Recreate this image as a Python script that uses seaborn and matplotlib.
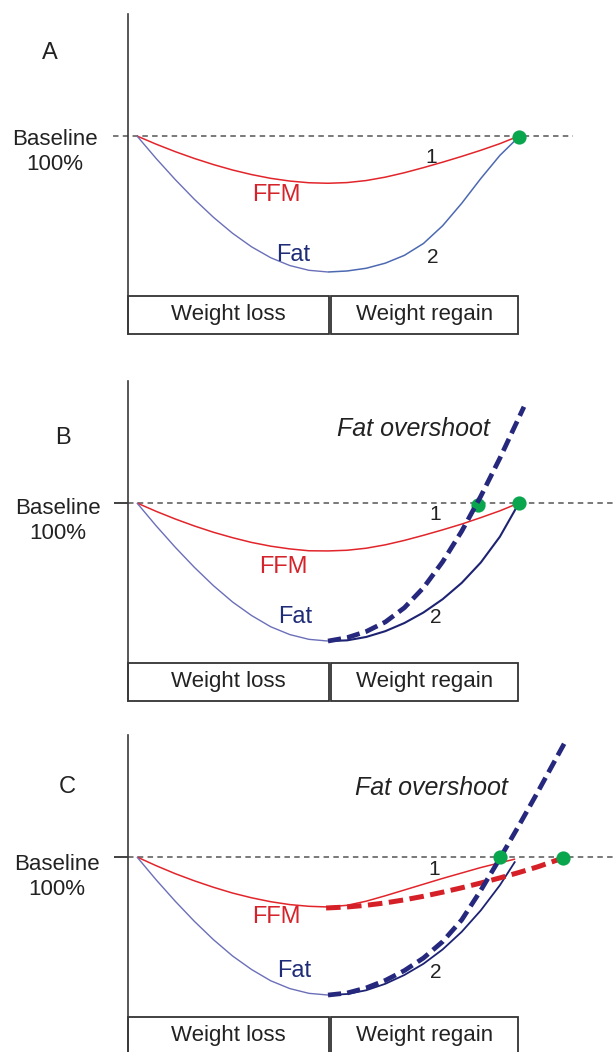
import matplotlib
matplotlib.use("Agg")
import matplotlib.pyplot as plt
from matplotlib.patches import Rectangle
import seaborn as sns

# time: 0 = start of weight loss, 0.5 = switch to regain, 1 = end of regain
T = [0.0, 0.05, 0.1, 0.15, 0.2, 0.25, 0.3, 0.35, 0.4, 0.45, 0.5,
     0.55, 0.6, 0.65, 0.7, 0.75, 0.8, 0.85, 0.9, 0.95, 1.0]
T_C = T[:-1] + [0.99]

# panel A, % of baseline
A_FFM = [100, 97.6, 95.4, 93.4, 91.6, 90.0, 88.65, 87.55, 86.75, 86.25, 86.1,
         86.3, 86.9, 87.9, 89.2, 90.7, 92.3, 94.0, 95.8, 97.75, 100]
A_FAT = [100, 93.4, 87.2, 81.4, 76.1, 71.4, 67.4, 64.2, 61.9, 60.5, 60.0,
         60.3, 61.1, 62.6, 64.9, 68.4, 73.6, 80.2, 87.5, 94.3, 99.8]
A_DOT_T = [1.0]
A_DOT = [99.6]

# panel B
B_FFM = [100, 97.55, 95.3, 93.25, 91.4, 89.8, 88.4, 87.3, 86.5, 85.95, 85.9,
         86.1, 86.7, 87.7, 89.0, 90.5, 92.1, 93.8, 95.7, 97.7, 100]
B_FAT = [100, 93.3, 87.0, 81.1, 75.7, 70.9, 66.9, 63.6, 61.3, 59.9, 59.4,
         59.6, 60.6, 62.3, 64.7, 67.8, 71.7, 76.5, 82.5, 90.1, 100]
B_OVER_T = [0.5, 0.55, 0.6, 0.65, 0.7, 0.75, 0.8, 0.85, 0.9, 0.95, 1.013]
B_OVER = [59.4, 60.4, 62.2, 65.0, 69.2, 75.1, 82.7, 91.7, 102.0, 113.2, 128.3]
B_DOT_T = [0.893, 1.0]
B_DOT = [99.5, 100]

# panel C
C_FFM = [100, 97.45, 95.1, 93.0, 91.1, 89.4, 88.0, 86.85, 86.0, 85.5, 85.3,
         85.8, 87.0, 88.6, 90.3, 92.0, 93.7, 95.3, 96.9, 98.3, 99.4]
C_FAT = [100, 93.3, 87.0, 81.1, 75.7, 70.9, 66.9, 63.6, 61.3, 59.9, 59.4,
         59.7, 60.8, 62.7, 65.3, 68.6, 72.8, 78.0, 84.3, 91.7, 98.7]
C_OVER_T = [0.5, 0.55, 0.6, 0.65, 0.7, 0.75, 0.8, 0.85, 0.9, 0.95, 1.0, 1.05, 1.123]
C_OVER = [59.4, 60.0, 61.5, 63.7, 66.6, 70.3, 75.1, 81.5, 90.2, 99.6, 109.3, 119.3, 134.3]
C_FFM_OVER_T = [0.495, 0.55, 0.6, 0.65, 0.7, 0.75, 0.8, 0.85, 0.9, 0.95, 1.0, 1.05, 1.115]
C_FFM_OVER = [85.0, 85.3, 85.8, 86.5, 87.4, 88.45, 89.65, 90.95, 92.35, 93.85, 95.45, 97.15, 99.7]
C_DOT_T = [0.949, 1.115]
C_DOT = [100, 99.7]

PHASES = ["Weight loss", "Weight regain"]

RED = "#e2252b"
RED_TXT = "#d4232a"
FAT_LIGHT = "#6b6fb8"
FAT_MID = "#4c69b1"
NAVY = "#1d2372"
NAVY_DASH = "#25287c"
NAVY_TXT = "#1f2d78"
GREEN = "#0aa64e"
GREY = "#555555"
INK = "#222222"

# layout (pixels of the 616x1052 picture)
FIG_W, FIG_H = 616, 1052
AX_L, AX_R = 128, 616
T0_PX, T1_PX = 137, 519
PX_PER_PCT = 3.4
Y_TOP, Y_BOX, Y_BOT = 136.0, 53.0, 41.8

sns.set_style("white")
plt.rcParams["font.family"] = ["Liberation Sans", "DejaVu Sans"]

fig = plt.figure(figsize=(FIG_W / 100, FIG_H / 100), dpi=100)

px_t = T1_PX - T0_PX
xlim = ((AX_L - T0_PX) / px_t, (AX_R - T0_PX) / px_t)


def make_axes(base_px):
    top_px = base_px - (Y_TOP - 100) * PX_PER_PCT
    h_px = (Y_TOP - Y_BOT) * PX_PER_PCT
    ax = fig.add_axes([AX_L / FIG_W, 1 - (top_px + h_px) / FIG_H,
                       (AX_R - AX_L) / FIG_W, h_px / FIG_H])
    ax.set_xlim(*xlim)
    ax.set_ylim(Y_BOT, Y_TOP)
    ax.set_xticks([])
    ax.patch.set_alpha(0)
    sns.despine(ax=ax, bottom=True)
    ax.spines["left"].set_color("#3a3a3a")
    ax.spines["left"].set_linewidth(1.2)
    return ax


def line(ax, x, y, color, lw, dashes=None, z=2):
    sns.lineplot(x=x, y=y, ax=ax, color=color, linewidth=lw, sort=False,
                 errorbar=None, zorder=z)
    ln = ax.lines[-1]
    ln.set_clip_on(False)
    ln.set_solid_capstyle("butt")
    ln.set_solid_joinstyle("round")
    if dashes is not None:
        ln.set_dashes(dashes)
        ln.set_dash_capstyle("butt")


def dots(ax, x, y, z=6):
    sns.scatterplot(x=x, y=y, ax=ax, s=105, color=GREEN, linewidth=0,
                    zorder=z, clip_on=False)


def common(ax, letter, letter_xy, ffm_xy, fat_xy, one_xy, two_xy, base_xy,
           tick=True, dash_span=None):
    if tick:
        ax.set_yticks([100])
        ax.set_yticklabels([])
        ax.tick_params(axis="y", left=True, length=10, width=1.3, color="#333333")
    else:
        ax.set_yticks([])
    x0, x1 = dash_span if dash_span else (xlim[0], xlim[1] + 0.01)
    ax.plot([x0, x1], [100, 100], color=GREY, lw=1.1, dashes=(3.6, 2.8),
            zorder=1, clip_on=False)
    ax.text(*letter_xy, letter, fontsize=17, color=INK, ha="center", va="center")
    ax.text(*base_xy, "Baseline\n100%", fontsize=16, color=INK, ha="center",
            va="center", linespacing=1.25)
    ax.text(*ffm_xy, "FFM", fontsize=17, color=RED_TXT, ha="center", va="center")
    ax.text(*fat_xy, "Fat", fontsize=17, color=NAVY_TXT, ha="center", va="center")
    ax.text(*one_xy, "1", fontsize=15, color=INK, ha="center", va="center")
    ax.text(*two_xy, "2", fontsize=15, color=INK, ha="center", va="center")
    # phase boxes under the curves
    spans = [(xlim[0], 0.503), (0.508, 0.997)]
    for (b0, b1), name in zip(spans, PHASES):
        ax.add_patch(Rectangle((b0, Y_BOT), b1 - b0, Y_BOX - Y_BOT, fill=False,
                               edgecolor="#333333", lw=1.3, clip_on=False))
        ax.text((b0 + b1) / 2, (Y_BOT + Y_BOX) / 2, name, fontsize=16,
                color=INK, ha="center", va="center")


# ---- A ----
ax = make_axes(136)
common(ax, "A", (-0.228, 124.4), (0.366, 82.6), (0.408, 65.0), (0.770, 93.8),
       (0.775, 64.4), (-0.215, 95.4), tick=False, dash_span=(-0.063, 1.141))
line(ax, T, A_FFM, RED, 1.1)
line(ax, T[:11], A_FAT[:11], FAT_LIGHT, 1.0)
line(ax, T[10:], A_FAT[10:], FAT_MID, 1.1)
dots(ax, A_DOT_T, A_DOT)

# ---- B ----
ax = make_axes(503)
common(ax, "B", (-0.194, 119.1), (0.382, 81.2), (0.414, 66.5), (0.780, 96.5),
       (0.783, 66.2), (-0.207, 94.7))
line(ax, T, B_FFM, RED, 1.1)
line(ax, T[:11], B_FAT[:11], FAT_LIGHT, 1.0)
line(ax, T[10:], B_FAT[10:], NAVY, 1.5)
dots(ax, B_DOT_T, B_DOT, z=4)
line(ax, B_OVER_T, B_OVER, NAVY_DASH, 3.4, dashes=(2.8, 1.3), z=5)
ax.text(0.723, 121.8, "Fat overshoot", fontsize=18, style="italic", color=INK,
        ha="center", va="center")

# ---- C ----
ax = make_axes(857)
common(ax, "C", (-0.183, 120.6), (0.366, 82.4), (0.411, 66.5), (0.777, 96.2),
       (0.783, 65.9), (-0.210, 94.0))
line(ax, T_C, C_FFM, RED, 1.1)
line(ax, T_C[:11], C_FAT[:11], FAT_LIGHT, 1.0)
line(ax, T_C[10:], C_FAT[10:], NAVY, 1.3)
line(ax, C_FFM_OVER_T, C_FFM_OVER, "#d62027", 3.6, dashes=(2.9, 1.3), z=4)
line(ax, C_OVER_T, C_OVER, NAVY_DASH, 3.4, dashes=(2.8, 1.3), z=5)
dots(ax, C_DOT_T, C_DOT)
ax.text(0.772, 120.3, "Fat overshoot", fontsize=18, style="italic", color=INK,
        ha="center", va="center")

fig.savefig("out.png", dpi=100)
